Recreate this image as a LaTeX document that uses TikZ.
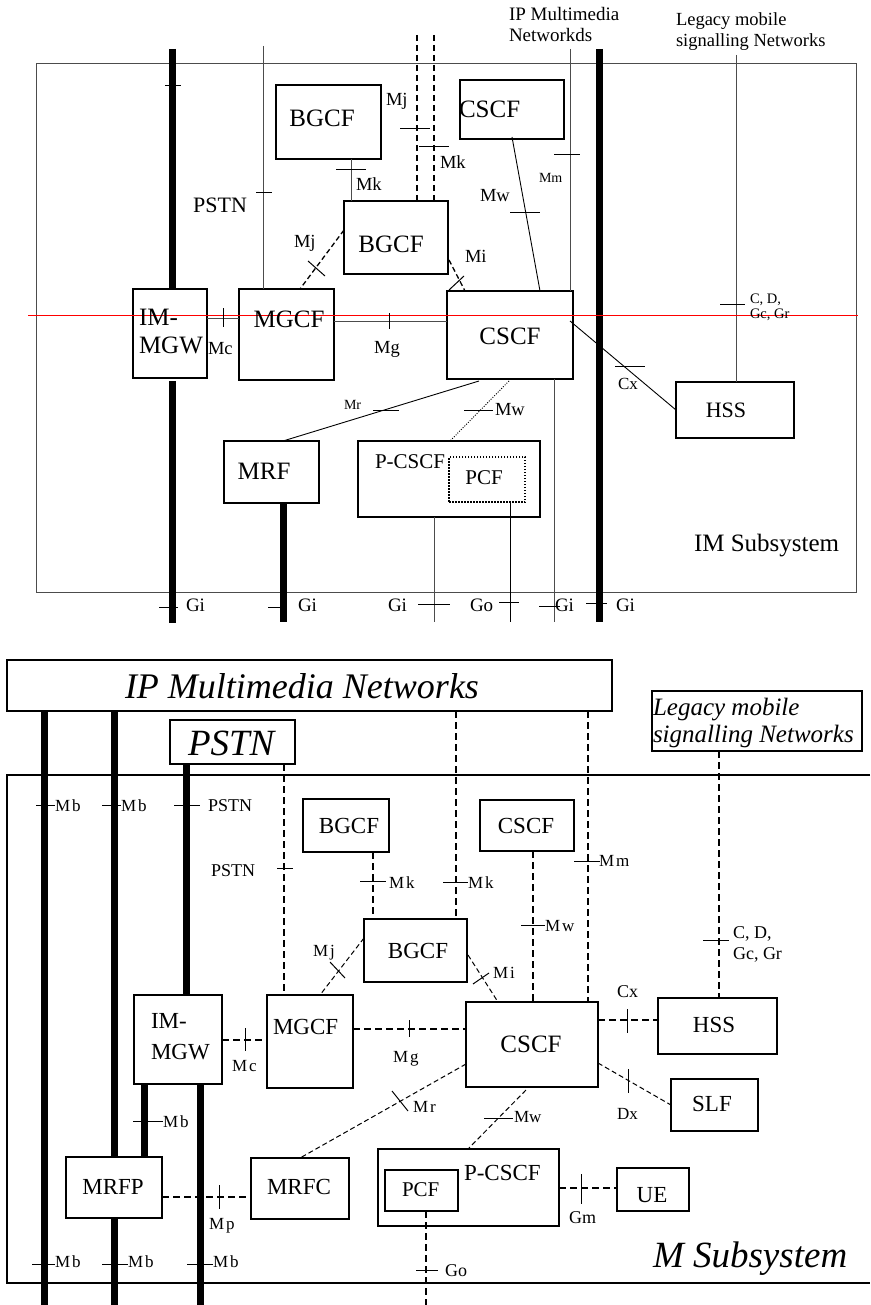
\documentclass[tikz,border=0pt]{standalone}
\usepackage{fontspec}
\setmainfont{Liberation Serif}
\usetikzlibrary{fit,calc}
\newcommand\fsz[1]{\fontsize{#1}{#1}\selectfont}
\newcommand\lsp{\kern2pt}
\newcommand\htk[3]{\draw[tk] (#1,#3) -- (#2,#3);}
\newcommand\vtk[3]{\draw[tk] (#1,#2) -- (#1,#3);}
\newcommand\twest[5]{\node[txt, anchor=base west, font=\fsz{#4}] (#1) at (#2,#3) {#5};}
\newcommand\tmid[5]{\node[txt, anchor=base, font=\fsz{#4}] (#1) at (#2,#3) {#5};}
\newcommand\bxf[6][]{\node[bx,#1,fit={(#3,#4) (#5,#6)}] (#2) {};}
\begin{document}
\begin{tikzpicture}[x=1pt,y=-1pt,
 bx/.style={draw, line width=1.2pt, inner sep=0pt, outer sep=0pt, rectangle},
 bxt/.style={line width=2.2pt},
 txt/.style={inner sep=0pt, outer sep=0pt},
 bar/.style={line width=7pt},
 thn/.style={draw=black!70, line width=1pt},
 tk/.style={line width=1pt},
 dsh/.style={line width=1.6pt, dash pattern=on 7pt off 4pt},
 dshA/.style={line width=1.4pt, dash pattern=on 6pt off 4pt},
 dshd/.style={line width=1pt, dash pattern=on 5pt off 3pt},
]
\useasboundingbox (0,0) rectangle (870,1305);
\fill[white] (0,0) rectangle (870,1305);

% ================= TOP DIAGRAM =================
\bxf[draw=black!70, line width=1pt]{imsys}{36}{64}{856}{592}
\bxf{imgwA}{133}{289}{207}{378}
\bxf{mgcfA}{239}{289}{334}{380}
\bxf{bgcfA1}{276}{85}{381}{159}
\bxf{bgcfA2}{344}{201}{448}{274}
\bxf{cscfA1}{460}{80}{564}{139}
\bxf[bxt]{cscfA}{447}{291}{573}{379}
\bxf[bxt]{hssA}{676}{382}{794}{438}
\bxf{mrfA}{224}{441}{319}{503}
\bxf{pcscfA}{358}{441}{540}{517}
\bxf[line width=1.8pt, dash pattern=on 1.5pt off 1.5pt]{pcfA}{449}{457}{525}{502}

% coordinates (free ends / positions)
\coordinate (t1top) at (172,49);
\coordinate (t1bot) at (172,623);
\coordinate (t2top) at (599,49);
\coordinate (t2bot) at (599,622);
\coordinate (t3bot) at (283,622);
\coordinate (pstnA) at (263,46);
\coordinate (xMkA) at (351,0);
\coordinate (dA1) at (417,35);
\coordinate (dA2) at (434,35);
\coordinate (mmA) at (570,49);
\coordinate (lgA) at (736,55);
\coordinate (yMc) at (0,318);
\coordinate (yMg) at (0,321);
\coordinate (giA1) at (434,622);
\coordinate (goA) at (510,622);
\coordinate (giA2) at (554,622);
\coordinate (rl) at (28,315);
\coordinate (rr) at (858,315);

% bars
\draw[bar] (t1top) -- (t1top |- imgwA.north);
\draw[bar] ($(t1bot |- imgwA.south)+(0,3)$) -- (t1bot);
\draw[bar] (t2top) -- (t2bot);
\draw[bar] (mrfA.south -| t3bot) -- (t3bot);

% thin connectors
\draw[thn] (pstnA) -- (pstnA |- mgcfA.north);
\draw[thn] (bgcfA1.south -| xMkA) -- (bgcfA2.north -| xMkA);
\draw[dshA] (dA1) -- (dA1 |- bgcfA2.north);
\draw[dshA] (dA2) -- (dA2 |- bgcfA2.north);
\draw[line width=0.9pt] ($(cscfA1.south west)+(52,-2)$) -- ($(cscfA.north west)+(93,0)$);
\draw[thn] (mmA) -- (mmA |- cscfA.north);
\draw[thn] (lgA) -- (lgA |- hssA.north);
\draw[thn] (imgwA.east |- yMc) -- (mgcfA.west |- yMc);
\draw[thn] (mgcfA.east |- yMg) -- (cscfA.west |- yMg);
\draw[line width=0.9pt] ($(cscfA.north east)+(-3,30)$) -- ($(hssA.north west)+(0,28)$);
\draw[line width=0.9pt] ($(cscfA.south west)+(32,2)$) -- ($(mrfA.north west)+(59,0)$);
\draw[line width=0.9pt, dash pattern=on 1pt off 1.5pt] ($(cscfA.south west)+(62,2)$) -- ($(pcscfA.north west)+(92,0)$);
\draw[thn] (pcscfA.south -| giA1) -- (giA1);
\draw[line width=1pt] (pcfA.south -| goA) -- (goA);
\draw[thn] (cscfA.south -| giA2) -- (giA2);
\draw[dshd, line width=1.3pt] ($(bgcfA2.north west)+(0,29)$) -- ($(mgcfA.north west)+(61,0)$);
\draw[dshd, line width=1.3pt] ($(bgcfA2.south east)+(1,-14)$) -- ($(cscfA.north west)+(18,0)$);
\draw[red, line width=0.8pt] (rl) -- (rr);

% ticks top
\htk{165}{181}{86}
\htk{256}{272}{193}
\htk{336}{366}{170}
\htk{400}{430}{129}
\htk{419}{449}{147}
\htk{510}{540}{213}
\htk{554}{580}{155}
\htk{720}{745}{305}
\vtk{223}{308}{327}
\vtk{389}{313}{329}
\htk{615}{645}{366}
\htk{373}{399}{410}
\htk{464}{493}{410}
\htk{159}{178}{607}
\htk{268}{287}{607}
\htk{418}{450}{604}
\htk{499}{519}{602}
\htk{539}{560}{606}
\htk{586}{607}{603}
\draw[tk] (308,261) -- (325,276);
\draw[tk] (449,290) -- (464,276);

% texts top
\tmid{tBgA1}{322}{127}{25}{BGCF}
\tmid{tBgA2}{391}{253}{25}{BGCF}
\twest{tCsA1}{459}{118}{25}{CSCF}
\tmid{tCsA}{510}{344}{25}{CSCF}
\twest{tImA1}{139}{325}{25}{IM-}
\twest{tImA2}{139}{353}{25}{MGW}
\tmid{tMgcfA}{289}{327}{25}{MGCF}
\twest{lMcA}{208}{354}{18.5}{Mc}
\tmid{lMgA}{387}{353}{18.5}{Mg}
\tmid{lPstnA}{220}{213}{22}{PSTN}
\twest{lMkA}{356}{191}{18.5}{Mk}
\twest{lMjA}{294}{248}{18.5}{Mj}
\twest{lMjA2}{386}{106}{18.5}{Mj}
\twest{lMkA2}{440}{169}{18.5}{Mk}
\twest{lMwA}{480}{202}{18.5}{Mw}
\twest{lMmA}{539}{183}{14}{Mm}
\twest{lMiA}{465}{263}{18.5}{Mi}
\twest{lCdA1}{750}{304}{14.5}{C, D,}
\twest{lCdA2}{750}{319}{14.5}{Gc, Gr}
\twest{lCxA}{618}{389}{17}{Cx}
\tmid{tHssA}{726}{417}{22}{HSS}
\twest{lMrA}{344}{409}{14}{Mr}
\twest{lMwA2}{495}{415}{18.5}{Mw}
\tmid{tMrfA}{264}{479}{25}{MRF}
\twest{tPcscfA}{375}{468}{21}{P-CSCF}
\tmid{tPcfA}{484}{484}{21}{PCF}
\twest{lGiA1}{186}{611}{19}{Gi}
\twest{lGiA2}{298}{611}{19}{Gi}
\twest{lGiA3}{388}{611}{19}{Gi}
\twest{lGoA}{470}{611}{19}{Go}
\twest{lGiA4}{555}{611}{19}{Gi}
\twest{lGiA5}{616}{611}{19}{Gi}
\twest{tImSub}{694}{551}{25}{IM Subsystem}
\twest{tIpA1}{509}{21}{19}{IP Multimedia}
\twest{tIpA2}{509}{42}{19}{Networkds}
\twest{tLgA1}{676}{26}{18.5}{Legacy mobile}
\twest{tLgA2}{676}{47}{18.5}{signalling Networks}

% ================= BOTTOM DIAGRAM =================
\draw[line width=1.4pt] (870,775) -- (7,775) -- (7,1283) -- (870,1283);
\bxf{ipmn}{7}{660}{612}{711}
\bxf{pstnB}{170}{720}{295}{764}
\bxf{legB}{652}{691}{862}{751}
\bxf{bgcfB1}{303}{799}{389}{852}
\bxf{bgcfB2}{364}{919}{467}{982}
\bxf{cscfB1}{480}{800}{574}{851}
\bxf[bxt]{cscfB}{466}{1002}{598}{1087}
\bxf{mgcfB}{267}{995}{353}{1088}
\draw[line width=2.4pt] (mgcfB.north east) -- (mgcfB.south east);
\bxf{imgwB}{134}{995}{222}{1084}
\bxf[bxt]{hssB}{658}{998}{777}{1054}
\bxf{slfB}{671}{1079}{758}{1131}
\bxf{mrfcB}{251}{1158}{349}{1219}
\bxf{mrfpB}{66}{1157}{162}{1218}
\bxf{pcscfB}{378}{1149}{559}{1226}
\bxf{pcfB}{385}{1170}{458}{1211}
\bxf{ueB}{617}{1168}{689}{1211}

\coordinate (b1b) at (44,1305);
\coordinate (b2b) at (114,1305);
\coordinate (b3) at (186,0);
\coordinate (b4) at (144,0);
\coordinate (b5b) at (200,1305);
\coordinate (xP) at (284,0);
\coordinate (xk1) at (373,0);
\coordinate (xk2) at (456,0);
\coordinate (xw) at (533,0);
\coordinate (xm) at (588,0);
\coordinate (xl) at (719,0);
\coordinate (yg) at (0,1029);
\coordinate (yc) at (0,1040);
\coordinate (yx) at (0,1020);
\coordinate (yp) at (0,1197);
\coordinate (ym) at (0,1188);
\coordinate (goB) at (426,1305);

% bars bottom
\draw[bar] (ipmn.south -| b1b) -- (b1b);
\draw[bar] (ipmn.south -| b2b) -- (mrfpB.north -| b2b);
\draw[bar] (mrfpB.south -| b2b) -- (b2b);
\draw[bar] (pstnB.south -| b3) -- (imgwB.north -| b3);
\draw[bar] (imgwB.south -| b4) -- (mrfpB.north -| b4);
\draw[bar] (imgwB.south -| b5b) -- (b5b);

% dashed connectors bottom
\draw[dsh] (pstnB.south -| xP) -- (mgcfB.north -| xP);
\draw[dsh] (bgcfB1.south -| xk1) -- (bgcfB2.north -| xk1);
\draw[dsh] (ipmn.south -| xk2) -- (bgcfB2.north -| xk2);
\draw[dsh] (cscfB1.south -| xw) -- (cscfB.north -| xw);
\draw[dsh] (ipmn.south -| xm) -- (cscfB.north -| xm);
\draw[dsh] (legB.south -| xl) -- (hssB.north -| xl);
\draw[dsh] (mgcfB.east |- yg) -- (cscfB.west |- yg);
\draw[dsh] (imgwB.east |- yc) -- (mgcfB.west |- yc);
\draw[dsh] (cscfB.east |- yx) -- (hssB.west |- yx);
\draw[dsh] (mrfpB.east |- yp) -- (mrfcB.west |- yp);
\draw[dsh] (pcscfB.east |- ym) -- (ueB.west |- ym);
\draw[dsh] (pcfB.south -| goB) -- (goB);
\draw[dshd] ($(bgcfB2.north west)+(0,19)$) -- ($(mgcfB.north west)+(53,0)$);
\draw[dshd] ($(bgcfB2.north east)+(1,36)$) -- ($(cscfB.north west)+(32,0)$);
\draw[dshd] ($(cscfB.north west)+(0,62)$) -- ($(mrfcB.north west)+(49,0)$);
\draw[dshd] ($(cscfB.north east)+(0,61)$) -- ($(slfB.north west)+(0,26)$);
\draw[dshd] ($(cscfB.south west)+(60,3)$) -- ($(pcscfB.north west)+(90,0)$);

% ticks bottom
\htk{36}{55}{805}
\htk{102}{121}{805}
\htk{174}{200}{805}
\htk{277}{293}{868}
\htk{360}{386}{881}
\htk{443}{468}{882}
\htk{574}{600}{861}
\htk{521}{545}{925}
\htk{703}{729}{940}
\vtk{627}{1009}{1033}
\vtk{409}{1020}{1037}
\vtk{245}{1028}{1051}
\vtk{628}{1069}{1093}
\vtk{219}{1185}{1209}
\vtk{581}{1174}{1204}
\htk{416}{438}{1270}
\htk{484}{513}{1118}
\htk{133}{163}{1121}
\htk{32}{55}{1264}
\htk{102}{128}{1264}
\htk{187}{213}{1264}
\draw[tk] (330,962) -- (345,978);
\draw[tk] (473,984) -- (489,973);
\draw[tk] (392,1091) -- (408,1111);

% texts bottom
\twest{tIpB}{125}{698}{36}{\itshape IP Multimedia Networks}
\twest{tPstnB}{188}{755}{37}{\itshape PSTN}
\twest{lMbB1}{55}{811}{17}{M\lsp b}
\twest{lMbB2}{121}{811}{17}{M\lsp b}
\twest{lPstnB1}{208}{811}{18}{PSTN}
\twest{lPstnB2}{211}{876}{18}{PSTN}
\tmid{tBgB1}{349}{833}{23}{BGCF}
\twest{lMkB1}{389}{888}{17}{M\lsp k}
\twest{lMjB}{313}{956}{17}{M\lsp j}
\tmid{tBgB2}{418}{958}{23}{BGCF}
\twest{lMkB2}{468}{888}{17}{M\lsp k}
\tmid{tCsB1}{526}{833}{23}{CSCF}
\twest{lMmB}{599}{866}{17}{M\lsp m}
\twest{lMwB}{545}{931}{17}{M\lsp w}
\twest{tLgB1}{653}{715}{25}{\itshape Legacy mobile}
\twest{tLgB2}{653}{742}{25}{\itshape signalling Networks}
\twest{lCdB1}{733}{938}{18}{C, D,}
\twest{lCdB2}{733}{959}{18}{Gc, Gr}
\twest{lMiB}{493}{978}{17}{M\lsp i}
\twest{lCxB}{617}{997}{18}{Cx}
\tmid{tCsB}{531}{1052}{25}{CSCF}
\tmid{tHssB}{714}{1032}{23}{HSS}
\tmid{tSlf}{712}{1111}{23}{SLF}
\twest{lDx}{617}{1119}{17}{Dx}
\twest{lMwB2}{514}{1122}{17}{Mw}
\twest{tPcscfB}{464}{1180}{23}{P-CSCF}
\twest{lGm}{569}{1223}{18}{Gm}
\tmid{tUe}{652}{1202}{23}{UE}
\twest{tMSub}{653}{1267}{37}{\itshape M Subsystem}
\twest{lGoB}{445}{1276}{18}{Go}
\twest{tImB1}{151}{1028}{23}{IM-}
\twest{tImB2}{151}{1059}{23}{MGW}
\twest{tMgcfB}{273}{1034}{23}{MGCF}
\twest{lMcB}{232}{1071}{17}{M\lsp c}
\twest{lMgB}{393}{1062}{17}{M\lsp g}
\twest{lMrB}{413}{1112}{17}{M\lsp r}
\twest{lMbB3}{163}{1127}{17}{M\lsp b}
\tmid{tMrfp}{113}{1194}{23}{MRFP}
\tmid{tMrfc}{299}{1194}{23}{MRFC}
\twest{lMp}{209}{1229}{17}{M\lsp p}
\twest{lMbB4}{55}{1267}{17}{M\lsp b}
\twest{lMbB5}{128}{1267}{17}{M\lsp b}
\twest{lMbB6}{213}{1267}{17}{M\lsp b}
\twest{tPcfB}{402}{1196}{21}{PCF}
\end{tikzpicture}
\end{document}
